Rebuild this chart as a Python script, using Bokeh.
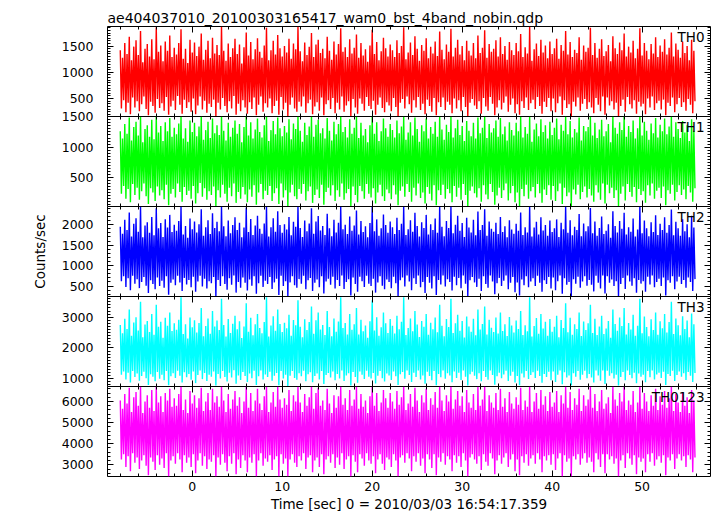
from bokeh.plotting import figure
from bokeh.layouts import column
from bokeh.models import Range1d, LinearAxis, SingleIntervalTicker, Label
from bokeh.embed import file_html
from bokeh.resources import INLINE

# ---- data: counts/sec per 0.125 s bin ----
T_START = -8.0
T_BIN = 0.125

th0 = [
    1420, 310, 1280, 470, 1560, 240, 1350, 420, 1680, 200, 1230, 520, 1490, 330, 1610, 450,
    1330, 260, 1790, 390, 1190, 540, 1450, 300, 1540, 180, 1300, 440, 1630, 360, 1250, 230,
    1860, 490, 1390, 320, 1510, 410, 1210, 270, 1590, 530, 1410, 190, 1700, 350, 1290, 460,
    1470, 280, 1340, 550, 1560, 380, 1820, 210, 1260, 480, 1450, 320, 1180, 430, 1620, 250,
    1380, 500, 1570, 200, 1310, 370, 1490, 540, 1740, 290, 1240, 460, 1430, 230, 1600, 400,
    1270, 340, 1660, 480, 1360, 170, 1520, 420, 1330, 290, 1870, 510, 1410, 360, 1220, 240,
    1550, 450, 1290, 310, 1460, 550, 1640, 190, 1350, 400, 1530, 260, 1170, 470, 1480, 330,
    1760, 210, 1320, 430, 1580, 300, 1250, 520, 1440, 180, 1650, 380, 1390, 540, 1280, 250,
    1510, 410, 1850, 330, 1230, 500, 1420, 220, 1600, 360, 1340, 460, 1710, 190, 1460, 530,
    1300, 290, 1500, 420, 1380, 160, 1640, 380, 1260, 520, 1550, 310, 1440, 250, 1870, 440,
    1400, 350, 1210, 540, 1570, 230, 1330, 410, 1490, 480, 1750, 200, 1290, 350, 1530, 430,
    1620, 270, 1370, 520, 1450, 180, 1270, 390, 1680, 470, 1410, 300, 1240, 510, 1590, 220,
    1340, 420, 1540, 290, 1840, 540, 1390, 250, 1480, 370, 1290, 450, 1630, 170, 1360, 490,
    1470, 330, 1720, 210, 1280, 500, 1560, 400, 1320, 270, 1440, 530, 1200, 360, 1510, 300,
    1810, 460, 1350, 190, 1580, 380, 1230, 520, 1400, 320, 1660, 240, 1460, 430, 1300, 370,
    1530, 260, 1420, 510, 1290, 340, 1610, 170, 1370, 420, 1500, 490, 1860, 310, 1250, 540,
    1380, 390, 1570, 230, 1330, 470, 1690, 330, 1450, 530, 1220, 280, 1520, 400, 1410, 200,
    1650, 480, 1270, 360, 1490, 250, 1360, 510, 1590, 180, 1310, 430, 1780, 340, 1430, 520,
    1250, 280, 1530, 440, 1390, 380, 1830, 220, 1300, 500, 1470, 310, 1620, 470, 1340, 260,
    1500, 530, 1230, 340, 1600, 160, 1410, 420, 1320, 490, 1560, 370, 1270, 300, 1700, 450,
    1370, 210, 1470, 510, 1800, 350, 1280, 270, 1540, 530, 1390, 400, 1450, 180, 1610, 330,
    1300, 470, 1670, 290, 1350, 420, 1500, 540, 1240, 250, 1580, 380, 1420, 500, 1330, 220,
    1560, 390, 1400, 190, 1730, 450, 1290, 320, 1480, 520, 1360, 280, 1870, 410, 1220, 480,
    1440, 300, 1550, 530, 1310, 360, 1620, 210, 1380, 440, 1510, 340, 1270, 510, 1590, 260,
    1350, 500, 1460, 240, 1640, 410, 1260, 540, 1520, 190, 1410, 470, 1790, 320, 1340, 390,
    1580, 170, 1290, 440, 1430, 350, 1370, 520, 1670, 270, 1240, 400, 1510, 490, 1390, 300,
    1470, 430, 1850, 330, 1330, 220, 1560, 510, 1280, 380, 1450, 260, 1630, 540, 1310, 190,
    1400, 520, 1520, 370, 1210, 450, 1690, 290, 1460, 420, 1350, 160, 1570, 360, 1420, 480,
    1740, 250, 1300, 530, 1490, 390, 1380, 310, 1600, 470, 1270, 210, 1450, 440, 1840, 350,
    1320, 400, 1560, 200, 1410, 500, 1250, 330, 1540, 540, 1360, 280, 1670, 410, 1290, 460,
    1510, 290, 1390, 480, 1630, 180, 1340, 420, 1470, 360, 1760, 520, 1300, 240, 1550, 390,
    1430, 510, 1280, 340, 1590, 430, 1370, 270, 1500, 490, 1230, 380, 1620, 220, 1410, 450,
]

th1 = [
    1260, 230, 1140, 360, 1380, 150, 1220, 310, 1490, 90, 1110, 390, 1330, 210, 1420, 330,
    1190, 130, 1500, 270, 1080, 400, 1300, 190, 1360, 60, 1170, 320, 1450, 250, 1130, 110,
    1500, 350, 1240, 200, 1350, 290, 1100, 140, 1410, 380, 1260, 40, 1480, 230, 1170, 310,
    1320, 170, 1210, 400, 1390, 260, 1500, 100, 1140, 340, 1310, 210, 1090, 280, 1440, 150,
    1250, 360, 1400, 70, 1180, 240, 1340, 410, 1500, 180, 1120, 320, 1280, 130, 1420, 270,
    1150, 210, 1470, 350, 1230, 30, 1360, 290, 1200, 170, 1500, 380, 1270, 230, 1110, 100,
    1400, 330, 1170, 190, 1320, 400, 1440, 80, 1220, 260, 1380, 150, 1080, 340, 1330, 220,
    1500, 90, 1190, 300, 1410, 180, 1140, 370, 1290, 50, 1470, 250, 1250, 390, 1160, 140,
    1360, 280, 1500, 210, 1100, 360, 1280, 110, 1430, 240, 1210, 320, 1490, 60, 1310, 400,
    1180, 170, 1350, 290, 1240, 20, 1460, 250, 1130, 380, 1390, 190, 1300, 140, 1500, 310,
    1270, 230, 1090, 390, 1400, 120, 1200, 270, 1340, 350, 1500, 80, 1170, 210, 1370, 300,
    1450, 160, 1230, 380, 1310, 50, 1140, 260, 1480, 330, 1270, 200, 1110, 370, 1420, 110,
    1210, 290, 1380, 180, 1500, 400, 1250, 130, 1330, 240, 1160, 310, 1460, 30, 1220, 350,
    1320, 210, 1500, 90, 1150, 360, 1400, 270, 1190, 150, 1300, 390, 1080, 230, 1360, 170,
    1500, 320, 1220, 70, 1410, 250, 1100, 380, 1260, 190, 1470, 110, 1310, 300, 1170, 240,
    1380, 140, 1280, 370, 1160, 220, 1440, 40, 1230, 280, 1340, 350, 1500, 180, 1120, 390,
    1240, 260, 1410, 100, 1190, 330, 1490, 200, 1300, 400, 1090, 160, 1360, 250, 1260, 70,
    1470, 340, 1140, 230, 1330, 120, 1220, 370, 1420, 40, 1170, 290, 1500, 210, 1290, 380,
    1120, 150, 1370, 310, 1250, 240, 1500, 90, 1160, 360, 1310, 180, 1450, 330, 1200, 130,
    1350, 390, 1100, 210, 1430, 20, 1270, 280, 1180, 350, 1400, 240, 1140, 170, 1490, 320,
    1230, 100, 1320, 370, 1500, 220, 1150, 140, 1380, 390, 1240, 260, 1310, 50, 1440, 200,
    1170, 330, 1480, 160, 1210, 290, 1340, 400, 1110, 120, 1410, 240, 1280, 360, 1190, 90,
    1400, 250, 1260, 30, 1500, 310, 1160, 190, 1330, 380, 1220, 150, 1500, 270, 1090, 340,
    1290, 170, 1390, 390, 1180, 240, 1460, 80, 1250, 300, 1360, 210, 1140, 370, 1420, 130,
    1200, 360, 1320, 110, 1470, 270, 1130, 400, 1370, 60, 1270, 330, 1500, 190, 1210, 250,
    1430, 20, 1160, 300, 1300, 220, 1240, 380, 1490, 140, 1110, 260, 1350, 350, 1260, 170,
    1330, 310, 1500, 200, 1190, 100, 1400, 370, 1150, 250, 1290, 130, 1450, 400, 1180, 70,
    1260, 380, 1380, 240, 1080, 330, 1500, 160, 1320, 290, 1220, 30, 1410, 230, 1280, 350,
    1500, 120, 1170, 390, 1350, 260, 1250, 180, 1440, 340, 1140, 90, 1310, 310, 1500, 210,
    1190, 270, 1420, 80, 1270, 370, 1120, 200, 1390, 400, 1230, 150, 1480, 280, 1160, 330,
    1370, 160, 1260, 350, 1470, 40, 1210, 290, 1340, 230, 1500, 380, 1170, 120, 1410, 260,
    1300, 370, 1150, 210, 1430, 300, 1240, 140, 1360, 360, 1100, 250, 1460, 100, 1270, 320,
]

th2 = [
    1950, 620, 1780, 740, 2120, 480, 1870, 690, 2300, 400, 1710, 750, 2020, 560, 2160, 670,
    1830, 450, 2440, 600, 1690, 720, 1980, 510, 2060, 330, 1800, 640, 2190, 550, 1740, 420,
    2400, 710, 1910, 500, 2040, 630, 1700, 460, 2130, 740, 1930, 290, 2240, 580, 1820, 660,
    2000, 520, 1850, 750, 2090, 590, 2440, 380, 1760, 700, 1970, 540, 1680, 650, 2150, 470,
    1890, 730, 2080, 360, 1810, 610, 2010, 750, 2380, 490, 1730, 680, 1940, 440, 2110, 620,
    1770, 570, 2280, 720, 1920, 250, 2070, 650, 1840, 500, 2440, 740, 1960, 550, 1720, 410,
    2100, 690, 1790, 530, 1990, 760, 2180, 340, 1870, 600, 2050, 460, 1690, 710, 1930, 580,
    2420, 390, 1820, 660, 2140, 510, 1750, 740, 1980, 310, 2220, 570, 1900, 750, 1780, 480,
    2030, 630, 2440, 550, 1710, 720, 1940, 430, 2160, 590, 1830, 680, 2330, 280, 1990, 750,
    1800, 500, 2010, 620, 1880, 260, 2190, 590, 1740, 740, 2070, 520, 1950, 460, 2440, 670,
    1920, 560, 1700, 750, 2100, 420, 1840, 640, 2030, 700, 2400, 380, 1780, 580, 2080, 660,
    2210, 470, 1860, 740, 1970, 320, 1750, 610, 2270, 680, 1910, 530, 1720, 730, 2120, 440,
    1810, 650, 2050, 500, 2440, 760, 1890, 430, 2000, 600, 1770, 670, 2200, 270, 1850, 710,
    1980, 550, 2350, 360, 1760, 730, 2090, 620, 1820, 480, 1960, 750, 1690, 560, 2040, 500,
    2440, 680, 1840, 340, 2130, 590, 1730, 740, 1910, 510, 2250, 420, 1990, 660, 1800, 600,
    2080, 450, 1940, 730, 1770, 570, 2170, 260, 1870, 640, 2020, 710, 2440, 490, 1750, 760,
    1890, 610, 2110, 400, 1830, 690, 2290, 550, 1970, 760, 1710, 470, 2060, 600, 1920, 330,
    2240, 720, 1760, 580, 2010, 440, 1870, 740, 2150, 280, 1800, 650, 2430, 540, 1950, 760,
    1720, 490, 2090, 670, 1920, 600, 2440, 390, 1790, 730, 2000, 520, 2220, 700, 1850, 450,
    2040, 760, 1700, 560, 2170, 250, 1930, 640, 1810, 720, 2120, 590, 1740, 480, 2320, 680,
    1870, 380, 1990, 740, 2380, 550, 1730, 460, 2080, 760, 1900, 610, 1830, 300, 2050, 570,
    1770, 700, 2190, 500, 1820, 630, 1960, 760, 1690, 420, 2110, 580, 1880, 720, 1780, 350,
    2020, 590, 1850, 270, 2300, 660, 1750, 520, 1940, 740, 1810, 470, 2440, 610, 1710, 690,
    1930, 500, 2070, 750, 1760, 580, 2180, 360, 1860, 640, 1990, 550, 1730, 720, 2100, 440,
    1820, 710, 1910, 400, 2130, 620, 1700, 760, 2050, 310, 1890, 690, 2440, 530, 1800, 600,
    2110, 260, 1740, 670, 1950, 560, 1870, 730, 2260, 460, 1720, 610, 2030, 740, 1840, 510,
    1960, 650, 2410, 530, 1790, 370, 2080, 750, 1730, 580, 1920, 440, 2200, 760, 1770, 320,
    1850, 740, 2010, 580, 1680, 660, 2330, 500, 1970, 620, 1810, 250, 2090, 550, 1900, 700,
    2290, 430, 1760, 760, 1940, 610, 1830, 510, 2150, 690, 1710, 340, 1880, 650, 2440, 560,
    1790, 620, 2100, 360, 1910, 730, 1720, 540, 2060, 760, 1820, 470, 2230, 600, 1750, 680,
    2020, 500, 1870, 710, 2180, 270, 1800, 640, 1990, 580, 2370, 740, 1740, 420, 2070, 610,
    1910, 730, 1730, 550, 2130, 650, 1840, 460, 2010, 710, 1690, 600, 2220, 380, 1930, 670,
]

th3 = [
    2750, 1130, 2480, 1240, 2950, 980, 2620, 1200, 3250, 880, 2400, 1250, 2830, 1060, 3000, 1170,
    2570, 940, 3500, 1090, 2350, 1230, 2760, 1020, 2880, 800, 2520, 1150, 3100, 1070, 2430, 920,
    3400, 1220, 2690, 1000, 2850, 1130, 2330, 950, 2980, 1250, 2720, 790, 3150, 1080, 2550, 1180,
    2800, 1030, 2590, 1260, 2920, 1100, 3650, 880, 2450, 1210, 2770, 1050, 2310, 1160, 2990, 970,
    2670, 1240, 2900, 860, 2500, 1120, 2810, 1270, 3300, 990, 2380, 1190, 2710, 930, 2960, 1130,
    2460, 1070, 3200, 1240, 2700, 780, 2890, 1160, 2580, 1010, 3600, 1250, 2750, 1060, 2370, 910,
    2940, 1200, 2490, 1040, 2790, 1280, 3050, 840, 2610, 1110, 2870, 960, 2320, 1220, 2700, 1090,
    3450, 900, 2530, 1170, 2980, 1020, 2410, 1260, 2770, 800, 3100, 1080, 2650, 1270, 2480, 980,
    2840, 1140, 3650, 1060, 2370, 1230, 2730, 940, 3030, 1100, 2560, 1190, 3250, 790, 2780, 1250,
    2520, 1010, 2820, 1130, 2640, 770, 3080, 1100, 2400, 1250, 2910, 1030, 2740, 970, 3550, 1180,
    2690, 1080, 2350, 1260, 2930, 920, 2580, 1150, 2840, 1210, 3350, 890, 2460, 1090, 2900, 1170,
    3150, 980, 2600, 1250, 2750, 830, 2420, 1120, 3200, 1190, 2680, 1040, 2380, 1240, 2960, 950,
    2530, 1160, 2860, 1010, 3650, 1270, 2650, 930, 2810, 1110, 2440, 1180, 3100, 780, 2590, 1220,
    2770, 1060, 3300, 870, 2440, 1240, 2920, 1130, 2540, 990, 2730, 1260, 2330, 1070, 2870, 1010,
    3550, 1190, 2570, 850, 3000, 1100, 2400, 1250, 2670, 1020, 3150, 910, 2800, 1170, 2490, 1110,
    2940, 960, 2720, 1240, 2470, 1080, 3050, 800, 2610, 1150, 2850, 1220, 3650, 1000, 2420, 1270,
    2650, 1120, 2960, 900, 2540, 1200, 3200, 1060, 2760, 1270, 2360, 980, 2880, 1110, 2690, 840,
    3100, 1230, 2430, 1090, 2820, 950, 2610, 1250, 2990, 790, 2510, 1160, 3400, 1050, 2720, 1270,
    2380, 1000, 2940, 1180, 2680, 1110, 3600, 890, 2490, 1240, 2800, 1030, 3080, 1200, 2560, 960,
    2880, 1270, 2340, 1070, 3020, 780, 2700, 1150, 2530, 1230, 2950, 1100, 2410, 990, 3250, 1180,
    2600, 920, 2780, 1250, 3350, 1060, 2440, 970, 2920, 1270, 2660, 1120, 2520, 810, 2990, 1080,
    2470, 1200, 3150, 1020, 2550, 1140, 2770, 1260, 2390, 930, 3010, 1100, 2730, 1230, 2500, 880,
    2890, 1090, 2620, 790, 3200, 1170, 2420, 1040, 2740, 1250, 2540, 990, 3650, 1120, 2370, 1210,
    2710, 1030, 2970, 1260, 2460, 1090, 3100, 870, 2630, 1160, 2850, 1060, 2400, 1230, 2940, 950,
    2530, 1240, 2690, 900, 3050, 1130, 2350, 1270, 2910, 820, 2650, 1210, 3450, 1040, 2510, 1110,
    2980, 790, 2430, 1180, 2770, 1070, 2620, 1250, 3150, 970, 2390, 1130, 2860, 1260, 2580, 1020,
    2800, 1160, 3400, 1040, 2490, 880, 2950, 1270, 2420, 1110, 2700, 940, 3050, 1270, 2450, 830,
    2630, 1260, 2880, 1100, 2330, 1180, 3250, 1010, 2780, 1130, 2560, 780, 2990, 1060, 2710, 1220,
    3300, 950, 2440, 1270, 2810, 1120, 2600, 1020, 3080, 1200, 2400, 860, 2720, 1170, 3600, 1070,
    2480, 1130, 3020, 890, 2680, 1250, 2380, 1050, 2930, 1270, 2580, 980, 3150, 1140, 2430, 1200,
    2870, 1030, 2640, 1230, 3100, 800, 2500, 1160, 2840, 1090, 3500, 1260, 2450, 930, 2960, 1120,
    2740, 1240, 2410, 1070, 3030, 1180, 2620, 960, 2890, 1220, 2350, 1100, 3120, 900, 2770, 1190,
]

th0123 = [
    6050, 3250, 5650, 3500, 6350, 2900, 5900, 3400, 6650, 2700, 5500, 3550, 6200, 3100, 6450, 3350,
    5800, 2800, 6700, 3200, 5450, 3450, 6000, 2950, 6300, 2500, 5700, 3350, 6550, 3150, 5550, 2750,
    6700, 3450, 5950, 3000, 6250, 3300, 5500, 2850, 6400, 3550, 6050, 2450, 6600, 3200, 5750, 3400,
    6150, 3050, 5800, 3550, 6350, 3250, 6700, 2650, 5600, 3450, 6100, 3100, 5450, 3350, 6500, 2900,
    5900, 3500, 6300, 2600, 5700, 3200, 6150, 3550, 6650, 2950, 5550, 3400, 6000, 2800, 6400, 3250,
    5600, 3150, 6600, 3450, 5950, 2450, 6250, 3350, 5750, 3000, 6700, 3500, 6050, 3100, 5500, 2700,
    6350, 3400, 5650, 3050, 6100, 3550, 6500, 2550, 5800, 3250, 6200, 2850, 5450, 3450, 6000, 3200,
    6700, 2650, 5700, 3350, 6400, 3100, 5550, 3500, 6050, 2450, 6600, 3200, 5900, 3550, 5600, 2950,
    6250, 3300, 6700, 3150, 5500, 3450, 5950, 2750, 6450, 3250, 5750, 3400, 6700, 2450, 6100, 3500,
    5700, 3050, 6150, 3300, 5850, 2450, 6550, 3250, 5550, 3500, 6300, 3100, 6000, 2900, 6700, 3400,
    5950, 3200, 5500, 3550, 6350, 2800, 5800, 3350, 6200, 3450, 6700, 2650, 5650, 3200, 6400, 3350,
    6650, 2900, 5800, 3500, 6050, 2550, 5600, 3250, 6600, 3400, 5900, 3100, 5450, 3500, 6300, 2850,
    5700, 3350, 6250, 3000, 6700, 3550, 5850, 2800, 6150, 3250, 5600, 3400, 6550, 2450, 5800, 3450,
    6100, 3150, 6700, 2650, 5650, 3500, 6350, 3300, 5750, 2950, 6050, 3550, 5450, 3200, 6250, 3050,
    6700, 3400, 5800, 2600, 6400, 3250, 5550, 3500, 5950, 3050, 6550, 2750, 6150, 3350, 5700, 3250,
    6400, 2900, 6000, 3500, 5650, 3200, 6500, 2450, 5850, 3350, 6200, 3450, 6700, 3100, 5600, 3550,
    5900, 3300, 6350, 2700, 5750, 3400, 6650, 3150, 6050, 3550, 5500, 2950, 6300, 3300, 5950, 2600,
    6600, 3500, 5600, 3250, 6150, 2850, 5850, 3500, 6450, 2500, 5700, 3350, 6700, 3150, 6050, 3550,
    5550, 3000, 6300, 3400, 6000, 3250, 6700, 2700, 5650, 3450, 6100, 3100, 6500, 3400, 5800, 2900,
    6250, 3550, 5500, 3200, 6550, 2450, 5950, 3350, 5700, 3500, 6350, 3250, 5600, 3050, 6700, 3400,
    5800, 2750, 6100, 3500, 6700, 3150, 5550, 2950, 6300, 3550, 5950, 3300, 5700, 2550, 6400, 3200,
    5600, 3450, 6600, 3050, 5750, 3350, 6150, 3550, 5500, 2900, 6450, 3250, 5900, 3500, 5650, 2700,
    6200, 3250, 5850, 2500, 6650, 3400, 5600, 3100, 6050, 3500, 5750, 2950, 6700, 3300, 5500, 3450,
    6000, 3050, 6400, 3550, 5650, 3250, 6550, 2650, 5850, 3400, 6250, 3200, 5550, 3450, 6450, 3000,
    5750, 3500, 5950, 2750, 6500, 3300, 5500, 3550, 6300, 2450, 5900, 3450, 6700, 3150, 5700, 3300,
    6450, 2450, 5600, 3400, 6150, 3250, 5850, 3500, 6600, 3000, 5550, 3300, 6300, 3550, 5800, 3100,
    6100, 3350, 6700, 3150, 5700, 2650, 6350, 3550, 5550, 3250, 6000, 2900, 6550, 3500, 5650, 2600,
    5900, 3500, 6200, 3250, 5450, 3400, 6700, 3050, 6100, 3300, 5800, 2450, 6400, 3200, 6000, 3450,
    6700, 2850, 5600, 3550, 6050, 3300, 5850, 3000, 6500, 3450, 5500, 2550, 5950, 3350, 6700, 3150,
    5650, 3300, 6400, 2650, 6000, 3500, 5550, 3150, 6300, 3550, 5800, 2950, 6600, 3250, 5600, 3400,
    6250, 3100, 5850, 3450, 6500, 2500, 5700, 3350, 6150, 3200, 6700, 3500, 5550, 2800, 6350, 3300,
    5950, 3500, 5500, 3200, 6400, 3400, 5800, 2900, 6200, 3450, 5450, 3250, 6550, 2650, 6050, 3350,
]

channel_names = ["TH0", "TH1", "TH2", "TH3", "TH0123"]
channel_values = [th0, th1, th2, th3, th0123]
channel_colors = ["#ff0000", "#00ff00", "#0000ff", "#00ffff", "#ff00ff"]
y_lows = [158, 20, 245, 750, 2445]
y_highs = [1874, 1505, 2445, 3672, 6711]
y_major_step = [500, 500, 500, 1000, 1000]
y_minor_count = [10, 10, 5, 10, 5]
X_LO, X_HI = -9.42, 57.6

TITLE = "ae404037010_20100303165417_wam0_bst_4band_nobin.qdp"
X_LABEL = "Time [sec] 0 = 2010/03/03 16:54:17.359"
Y_LABEL = "Counts/sec"

FONT = "DejaVu Sans"
FRAME_H = 90
x_range = Range1d(X_LO, X_HI)


def style_axis(ax, show_labels):
    ax.axis_line_color = None
    ax.major_tick_in = 6
    ax.major_tick_out = 0
    ax.minor_tick_in = 3
    ax.minor_tick_out = 0
    ax.major_tick_line_color = "black"
    ax.minor_tick_line_color = "black"
    ax.major_label_text_font = FONT
    if show_labels:
        ax.major_label_text_font_size = "12.5px"
        ax.major_label_text_color = "black"
    else:
        ax.major_label_text_font_size = "0px"
        ax.major_label_text_color = None
        ax.major_label_standoff = 0


figs = []
for k in range(5):
    first = k == 0
    last = k == 4
    top_b = 26 if first else 8
    bot_b = 39 if last else 8
    p = figure(
        width=717, height=FRAME_H + top_b + bot_b,
        x_range=x_range, y_range=Range1d(y_lows[k], y_highs[k]),
        output_backend="svg", toolbar_location=None,
        min_border_left=107, min_border_right=7,
        min_border_top=top_b, min_border_bottom=bot_b,
    )
    p.background_fill_color = "white"
    p.border_fill_color = None
    p.outline_line_color = "black"
    p.outline_line_width = 1
    p.grid.visible = False

    xt = SingleIntervalTicker(interval=10, num_minor_ticks=5)
    yt = SingleIntervalTicker(interval=y_major_step[k], num_minor_ticks=y_minor_count[k])

    xb = p.xaxis[0]
    xb.ticker = xt
    style_axis(xb, last)
    xa = LinearAxis(ticker=xt)
    style_axis(xa, False)
    p.add_layout(xa, "above")

    yl = p.yaxis[0]
    yl.ticker = yt
    style_axis(yl, True)
    yl.major_label_standoff = 14
    yr = LinearAxis(ticker=yt)
    style_axis(yr, False)
    p.add_layout(yr, "right")

    if k == 2:
        yl.axis_label = Y_LABEL
        yl.axis_label_text_font = FONT
        yl.axis_label_text_font_size = "13.5px"
        yl.axis_label_text_font_style = "normal"
        yl.axis_label_text_color = "black"
        yl.axis_label_standoff = 11
    if last:
        xb.major_label_standoff = 5
        xb.axis_label = X_LABEL
        xb.axis_label_text_font = FONT
        xb.axis_label_text_font_size = "13.5px"
        xb.axis_label_text_font_style = "normal"
        xb.axis_label_text_color = "black"
        xb.axis_label_standoff = 2
    if first:
        p.title.text = TITLE
        p.title.text_font = FONT
        p.title.text_font_size = "14px"
        p.title.text_font_style = "normal"
        p.title.text_color = "black"
        p.title.align = "left"
        p.title.standoff = 2
        p.title.offset = 0

    vals = channel_values[k]
    time = [T_START + T_BIN * i for i in range(len(vals))]
    p.line(time, vals, line_color=channel_colors[k], line_width=1.4)

    p.add_layout(Label(
        x=X_HI, y=y_highs[k], x_offset=-6, y_offset=-2,
        text=channel_names[k], text_align="right", text_baseline="top",
        text_font=FONT, text_font_size="13.5px", text_color="black",
    ))

    if not first:
        p.margin = (-16, 0, 0, 0)
    figs.append(p)

layout = column(*figs, spacing=0)
open("out.html", "w").write(file_html(layout, INLINE))
